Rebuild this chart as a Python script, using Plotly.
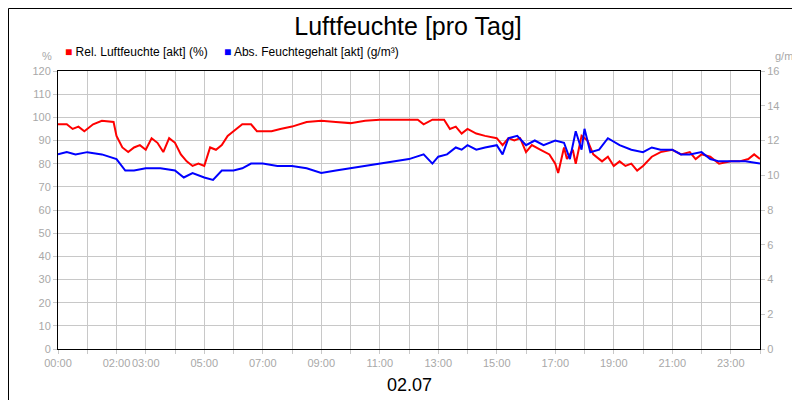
import plotly.graph_objects as go

rel_x = [0,0.3,0.5,0.7,0.9,1.2,1.5,1.9,2.0,2.2,2.4,2.6,2.8,3.0,3.2,3.4,3.6,3.8,4.0,4.2,4.4,4.6,4.8,5.0,5.2,5.4,5.6,5.8,6.0,6.3,6.6,6.8,7.0,7.3,7.6,8.0,8.5,9.0,9.5,10.0,10.5,11.0,11.5,12.0,12.3,12.5,12.8,13.2,13.4,13.6,13.8,14.0,14.3,14.6,15.0,15.2,15.4,15.6,15.8,16.0,16.2,16.5,16.8,17.0,17.1,17.3,17.4,17.6,17.7,17.9,18.1,18.3,18.6,18.8,19.0,19.2,19.4,19.6,19.8,20.0,20.3,20.6,21.0,21.3,21.6,21.8,22.0,22.3,22.6,23.0,23.3,23.6,23.8,24.0]
rel_y = [97,97,95,96,94,97,98.5,98,92,87,85,87,88,86,91,89,85,91,89,84,81,79,80,79,87,86,88,92,94,97,97,94,94,94,95,96,98,98.5,98,97.5,98.5,99,99,99,99,97,99,99,95,96,93,95,93,92,91,88,91,90,91,85,88,86,84,80,76,87,82,86,80,92,90,84,81,83,79,81,79,80,77,79,83,85,86,84,85,82,84,83,80,81,81,82,84,82]

abs_x = [0,0.3,0.6,1.0,1.5,2.0,2.3,2.6,3.0,3.5,4.0,4.3,4.6,5.0,5.3,5.6,6.0,6.3,6.6,7.0,7.5,8.0,8.5,9.0,9.5,10.0,10.5,11.0,11.5,12.0,12.5,12.8,13.0,13.3,13.6,13.8,14.0,14.3,14.6,15.0,15.2,15.4,15.7,16.0,16.3,16.6,17.0,17.3,17.5,17.7,17.9,18.0,18.2,18.5,18.8,19.2,19.6,20.0,20.3,20.6,21.0,21.3,21.6,22.0,22.3,22.6,23.0,23.5,24.0]
abs_y = [11.2,11.33,11.2,11.33,11.2,10.93,10.27,10.27,10.4,10.4,10.27,9.87,10.13,9.87,9.73,10.27,10.27,10.4,10.67,10.67,10.53,10.53,10.4,10.13,10.27,10.4,10.53,10.67,10.8,10.93,11.2,10.67,11.07,11.2,11.6,11.47,11.73,11.47,11.6,11.73,11.2,12.13,12.27,11.73,12.0,11.73,12.0,11.87,10.93,12.53,11.47,12.67,11.33,11.47,12.13,11.73,11.47,11.33,11.6,11.47,11.47,11.2,11.2,11.33,10.93,10.8,10.8,10.8,10.67]

hours = list(range(25))
hour_labels = ["00:00","","02:00","03:00","","05:00","","07:00","","09:00","","11:00","","13:00","","15:00","","17:00","","19:00","","21:00","","23:00",""]
left_ticks = list(range(0, 121, 10))
right_ticks = list(range(0, 17, 2))

fig = go.Figure()
fig.add_trace(go.Scatter(x=rel_x, y=rel_y, mode="lines", line=dict(color="#ff0000", width=2), showlegend=False))
fig.add_trace(go.Scatter(x=abs_x, y=abs_y, mode="lines", line=dict(color="#0000ff", width=2), yaxis="y2", showlegend=False))

tickfont = dict(family="Liberation Sans, Arial", size=11, color="#a8a8a8")
fig.update_layout(
    width=800, height=400, margin=dict(l=50, r=48, t=63, b=59, autoexpand=False),
    paper_bgcolor="white", plot_bgcolor="white",
    title=dict(text="Luftfeuchte [pro Tag]", x=0.5, xanchor="center", y=0.955, yanchor="middle",
               font=dict(family="Liberation Sans, Arial", size=25, color="black")),
    xaxis=dict(range=[0, 24], tickvals=hours, ticktext=hour_labels, showgrid=True, gridcolor="#c8c8c8",
               showline=True, linecolor="black", linewidth=1, mirror=True, zeroline=False, tickangle=0,
               automargin=False, ticks="outside", ticklen=4, tickcolor="#c8c8c8", tickfont=tickfont),
    yaxis=dict(range=[0, 120], tickvals=left_ticks, showgrid=True, gridcolor="#c8c8c8", automargin=False,
               showline=True, linecolor="black", linewidth=1, mirror=True, zeroline=False,
               ticks="outside", ticklen=4, tickcolor="#c8c8c8", tickfont=tickfont),
    yaxis2=dict(range=[0, 16], tickvals=right_ticks, overlaying="y", side="right", showgrid=False, automargin=False,
                zeroline=False, ticks="outside", ticklen=4, tickcolor="#c8c8c8", tickfont=tickfont),
    shapes=[dict(type="rect", xref="paper", yref="paper",
                 x0=-49.5/702, x1=1 + 47.5/702, y0=-58.5/278, y1=1 + 62.5/278,
                 line=dict(color="black", width=1), fillcolor="rgba(0,0,0,0)")],
    annotations=[
        dict(text="02.07", xref="paper", yref="paper", x=0.5, y=-36/278, xanchor="center", yanchor="middle",
             showarrow=False, font=dict(family="Liberation Sans, Arial", size=18, color="black")),
        dict(text="%", xref="paper", yref="paper", x=-4/702, y=1 + 15/278, xanchor="right", yanchor="middle",
             showarrow=False, font=tickfont),
        dict(text="g/m³", xref="paper", yref="paper", x=1 + 26/702, y=1 + 15/278, xanchor="center", yanchor="middle",
             showarrow=False, font=tickfont),
        dict(text="<span style='color:#ff0000'>■</span> Rel. Luftfeuchte [akt] (%)", xref="paper", yref="paper",
             x=5/702, y=1 + 19/278, xanchor="left", yanchor="middle", showarrow=False,
             font=dict(family="Liberation Sans, Arial", size=12, color="black")),
        dict(text="<span style='color:#0000ff'>■</span> Abs. Feuchtegehalt [akt] (g/m³)", xref="paper", yref="paper",
             x=164/702, y=1 + 19/278, xanchor="left", yanchor="middle", showarrow=False,
             font=dict(family="Liberation Sans, Arial", size=12, color="black")),
    ],
)
fig.write_html("out.html")
